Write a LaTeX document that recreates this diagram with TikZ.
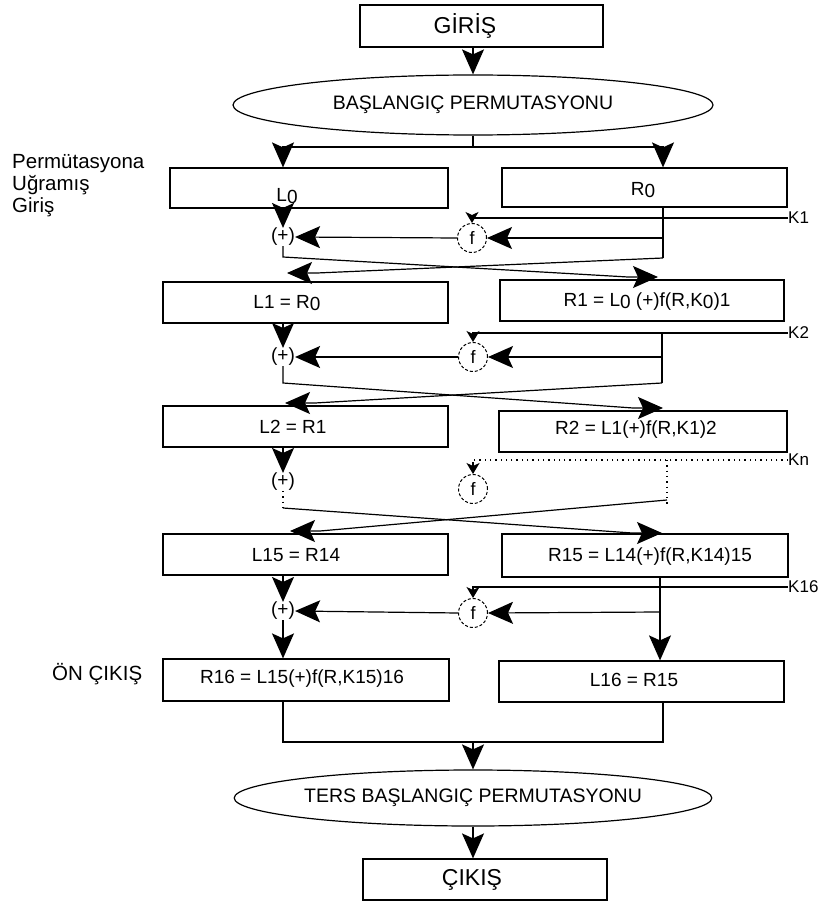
\documentclass[tikz,border=0pt]{standalone}
\usepackage{fontspec}
\setmainfont{Liberation Sans}
\usetikzlibrary{arrows.meta,shapes.geometric,calc}
\begin{document}
\begin{tikzpicture}[x=1pt,y=-1pt,
  every node/.style={inner sep=0pt, font=\fontsize{19}{22}\selectfont},
  ln/.style={line width=1.2pt},
  big/.style={-{Stealth[length=25pt,width=22pt,inset=5pt]}},
  small/.style={-{Stealth[length=11pt,width=13pt,inset=3pt]}},
  dots/.style={line width=1.2pt, dash pattern=on 1.3pt off 4pt},
  box/.style={draw, rectangle, line width=1.2pt},
  oval/.style={draw, ellipse, line width=1.2pt, font=\fontsize{19.5}{22}\selectfont},
  xor/.style={font=\fontsize{19}{22}\selectfont},
  fbox/.style={draw, circle, line width=1pt, dash pattern=on 3pt off 2pt,
               minimum size=29pt, font=\fontsize{18}{20}\selectfont},
  klab/.style={anchor=west, font=\fontsize{17}{20}\selectfont},
  side/.style={anchor=west, font=\fontsize{20.5}{23}\selectfont},
  big title/.style={font=\fontsize{23}{26}\selectfont}
]
\useasboundingbox[fill=white] (0,0) rectangle (822,904);

% ---------- input and initial permutation ----------
\node[box, minimum width=243, minimum height=42] (gir) at (481.5,26) {};
\node[big title] (girt) at (465,26) {GİRİŞ};
\node[oval, minimum width=480, minimum height=60] (e1) at (473,105) {BAŞLANGIÇ PERMUTASYONU};

\node[side] (s1) at (12,164) {Permütasyona};
\node[side] (s2) at (12,185) {Uğramış};
\node[side] (s3) at (12,207) {Giriş};

% ---------- round boxes ----------
\node[box, minimum width=278, minimum height=40] (L0) at (309,188) {};
\node (L0t) at (287,196) {L\raisebox{-2pt}{0}};
\node[box, minimum width=285, minimum height=39] (R0) at (644.5,187.5) {};
\node (R0t) at (643,190) {R\raisebox{-2pt}{0}};

\node[box, minimum width=285, minimum height=41] (L1) at (305.5,302.5) {};
\node (L1t) at (287,303) {L1 = R\raisebox{-2pt}{0}};
\node[box, minimum width=284, minimum height=41] (R1) at (642,300.5) {};
\node (R1t) at (647,302) {R1 = L\raisebox{-2pt}{0} (+)f(R,K\raisebox{-2pt}{0})1};

\node[box, minimum width=285, minimum height=41] (L2) at (305.5,426.5) {};
\node (L2t) at (293,427) {L2 = R1};
\node[box, minimum width=288, minimum height=41] (R2) at (643,431.5) {};
\node (R2t) at (636,430) {R2 = L1(+)f(R,K1)2};

\node[box, minimum width=285, minimum height=41] (L15) at (305.5,554.5) {};
\node (L15t) at (296,555) {L15 = R14};
\node[box, minimum width=286, minimum height=43] (R15) at (645,555.5) {};
\node (R15t) at (650,557) {R15 = L14(+)f(R,K14)15};

\node[box, minimum width=286, minimum height=42] (R16) at (306,680) {};
\node (R16t) at (302,679) {R16 = L15(+)f(R,K15)16};
\node[box, minimum width=285, minimum height=41] (L16) at (641.5,681.5) {};
\node (L16t) at (634,680) {L16 = R15};
\node[side] (on) at (52,674) {ÖN ÇIKIŞ};

% ---------- xor and f nodes, key labels ----------
\node[xor] (p1) at (283,237) {(+)};
\node[fbox] (f1) at (472,238) {f};
\node[klab] (k1) at (788,218) {K1};

\node[xor] (p2) at (283,357) {(+)};
\node[fbox] (f2) at (473,357) {f};
\node[klab] (k2) at (788,333) {K2};

\node[xor] (p3) at (283,482) {(+)};
\node[fbox] (f3) at (473,489) {f};
\node[klab] (kn) at (788,460) {Kn};

\node[xor] (p4) at (283,611) {(+)};
\node[fbox] (f4) at (473,613) {f};
\node[klab] (k16) at (788,587) {K16};

% ---------- output ----------
\node[oval, minimum width=470, minimum height=56] (e2) at (473,798) {TERS BAŞLANGIÇ PERMUTASYONU};
\node[box, minimum width=244, minimum height=41] (cik) at (485,879.5) {};
\node[big title] (cikt) at (472,880) {ÇIKIŞ};

% ---------- helper points ----------
\coordinate (s0) at (473,147);
\coordinate (r0) at (663,258);
\coordinate (c0) at (283,257);
\coordinate (t1R) at (658,277);
\coordinate (t1L) at (287,273);
\coordinate (r1) at (662,383);
\coordinate (c1) at (283,383);
\coordinate (t2R) at (663,408);
\coordinate (t2L) at (285,403);
\coordinate (r2) at (667,507);
\coordinate (r2m) at (667,500);
\coordinate (c2) at (283,508);
\coordinate (t3R) at (662,533);
\coordinate (t3L) at (290,531);
\coordinate (r3) at (660,612);
\coordinate (j) at (473,742);

% ---------- connectors ----------
\draw[ln,big] (gir.south -| e1) -- (e1.north);
\draw[ln] (e1.south) -- (s0);
\draw[ln,big] (s0) -| (p1 |- L0.north);
\draw[ln,big] (s0) -| (r0 |- R0.north);

% round 1
\draw[ln,big] (p1 |- L0.south) -- (p1.north);
\draw[ln,small] (k1.west) -| (f1.north);
\draw[ln] (r0 |- R0.south) -- (r0);
\draw[ln,big] (r0 |- f1) -- (f1.east);
\draw[ln,big] (f1.west) -- (p1.east);
\draw[ln,big] (p1.south) -- (c0) -- ($(t1R)+(-30,0)$) -- (t1R);
\draw[ln,big] (r0) -- ($(t1L)+(30,0)$) -- (t1L);

% round 2
\draw[ln,big] (p2 |- L1.south) -- (p2.north);
\draw[ln,small] (k2.west) -| (f2.north);
\draw[ln] (r1 |- k2.west) -- (r1);
\draw[ln,big] (r1 |- f2) -- (f2.east);
\draw[ln,big] (f2.west) -- (p2.east);
\draw[ln,big] (p2.south) -- (c1) -- ($(t2R)+(-30,0)$) -- (t2R);
\draw[ln,big] (r1) -- ($(t2L)+(30,0)$) -- (t2L);

% intermediate rounds
\draw[ln,big] (p3 |- L2.south) -- (p3.north);
\draw[dots] (kn.west) -| ($(f3.north)+(0,-12)$);
\draw[ln,small] ($(f3.north)+(0,-12)$) -- (f3.north);
\draw[dots] (r2 |- kn.west) -- (r2);
\draw[dots] (p3.south) -- (c2);
\draw[ln,big] (c2) -- ($(t3R)+(-30,0)$) -- (t3R);
\draw[ln,big] (r2m) -- ($(t3L)+(30,0)$) -- (t3L);

% round 16
\draw[ln,big] (p4 |- L15.south) -- (p4.north);
\draw[ln,small] (k16.west) -| (f4.north);
\draw[ln,big] (r3 |- R15.south) -- (r3 |- L16.north);
\draw[ln,big] (r3) -- (f4.east);
\draw[ln,big] (f4.west) -- (p4.east);
\draw[ln,big] (p4.south) -- (p4 |- R16.north);

% final permutation
\draw[ln] (p4 |- R16.south) |- (j) -| (r0 |- L16.south);
\draw[ln,big] (j) -- (e2.north);
\draw[ln,big] (e2.south) -- (e2.south |- cik.north);
\end{tikzpicture}
\end{document}
